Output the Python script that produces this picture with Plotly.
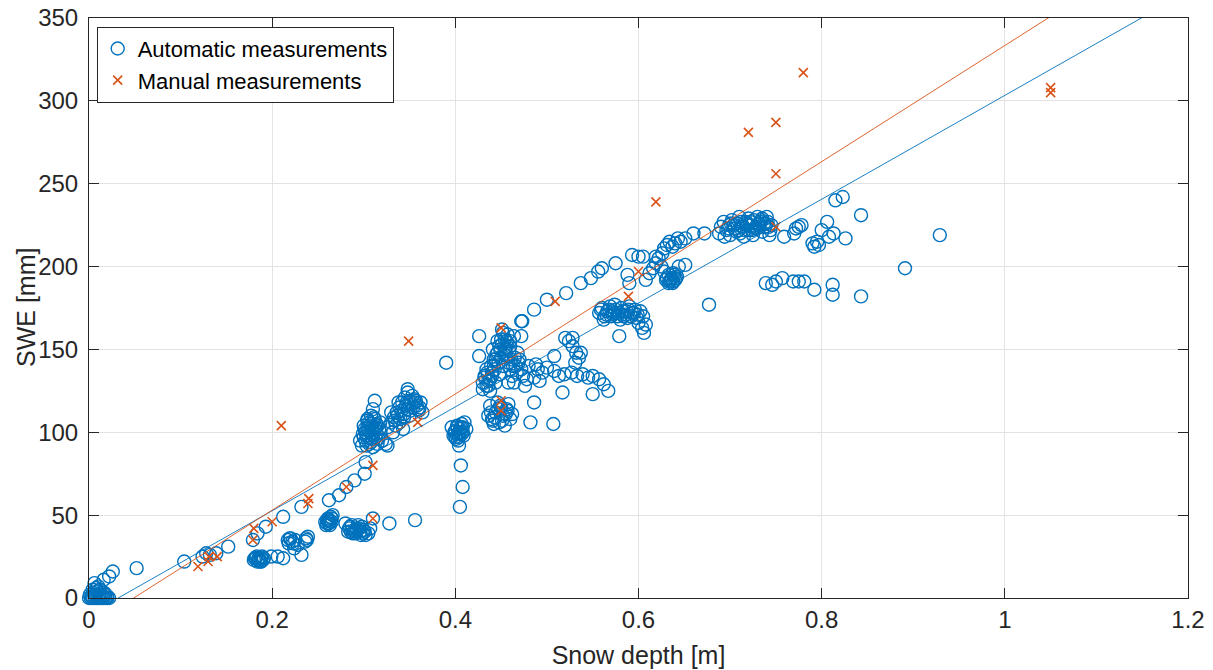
import numpy as np
import plotly.graph_objects as go

auto_depth = [
    0.000, 0.002, 0.004, 0.006, 0.008, 0.010, 0.012, 0.014, 0.016, 0.018, 0.020, 0.022,
    0.001, 0.003, 0.005, 0.007, 0.009, 0.011, 0.013, 0.015, 0.017, 0.020,
    0.004, 0.008, 0.006, 0.012, 0.016, 0.022, 0.026, 0.052, 0.010, 0.018,
    # 0.1 - 0.24
    0.104, 0.124, 0.128, 0.132, 0.139, 0.152, 0.179, 0.184, 0.193, 0.212, 0.232,
    0.180, 0.182, 0.184, 0.186, 0.188, 0.183, 0.187, 0.190, 0.185, 0.189,
    0.181, 0.185, 0.188, 0.191,
    0.199, 0.206, 0.212, 0.217, 0.220, 0.222, 0.225, 0.218, 0.224, 0.228, 0.232, 0.237, 0.239, 0.236,
    0.219, 0.223, 0.238,
    # 0.25 - 0.36 low
    0.258, 0.260, 0.262, 0.261, 0.263, 0.264, 0.266, 0.259, 0.262, 0.265,
    0.260, 0.263, 0.265, 0.261,
    0.280, 0.284, 0.286, 0.288, 0.290, 0.292, 0.294, 0.296, 0.298, 0.300, 0.302, 0.305,
    0.283, 0.287, 0.291, 0.297, 0.307, 0.310, 0.328, 0.356,
    0.289, 0.293, 0.295, 0.299, 0.301, 0.285,
    0.262, 0.273, 0.281, 0.290, 0.301, 0.302, 0.303,
    # 0.3 cluster
    0.296, 0.298, 0.300, 0.302, 0.304, 0.306, 0.308, 0.310, 0.312, 0.314, 0.316, 0.318,
    0.300, 0.304, 0.308, 0.312, 0.306, 0.310, 0.315, 0.303, 0.309, 0.313, 0.320, 0.318,
    0.310, 0.312, 0.324, 0.326,
    0.299, 0.301, 0.305, 0.307, 0.311, 0.313, 0.302, 0.306, 0.309, 0.314, 0.317, 0.304,
    0.308, 0.311, 0.315,
    # 0.33 - 0.365 cluster
    0.326, 0.330, 0.333, 0.336, 0.339, 0.342, 0.345, 0.348, 0.335, 0.340, 0.344, 0.348,
    0.352, 0.355, 0.358, 0.360, 0.362, 0.350, 0.330, 0.338, 0.343, 0.348, 0.353, 0.357,
    0.361, 0.364, 0.332,
    0.334, 0.337, 0.341, 0.346, 0.350, 0.354, 0.356, 0.359, 0.347, 0.351, 0.339, 0.344,
    # 0.4 strip
    0.390, 0.398, 0.400, 0.402, 0.404, 0.406, 0.408, 0.410, 0.401, 0.403, 0.405, 0.407,
    0.409, 0.404, 0.406, 0.408, 0.405, 0.396, 0.412,
    0.399, 0.402, 0.404, 0.406, 0.408, 0.400, 0.403, 0.407,
    # 0.43 - 0.48 cluster
    0.426, 0.426, 0.430, 0.432, 0.434, 0.436, 0.438, 0.440, 0.442, 0.444, 0.446, 0.448,
    0.450, 0.452, 0.454, 0.456, 0.458, 0.460, 0.462, 0.464, 0.466, 0.468, 0.470, 0.472,
    0.474, 0.476, 0.430, 0.434, 0.438, 0.444, 0.448, 0.452, 0.456, 0.460, 0.464, 0.446,
    0.441, 0.458, 0.472, 0.473, 0.486, 0.478,
    0.432, 0.436, 0.440, 0.443, 0.447, 0.450, 0.453, 0.455, 0.457, 0.459, 0.461, 0.463,
    0.435, 0.439, 0.442, 0.445, 0.449, 0.451, 0.454, 0.457, 0.460, 0.465, 0.467, 0.469,
    0.436, 0.440, 0.444, 0.448, 0.452, 0.456, 0.460, 0.438, 0.446, 0.454, 0.450, 0.442,
    0.458, 0.462,
    0.439, 0.443, 0.447, 0.451, 0.455, 0.441, 0.449, 0.457,
    # 0.48 - 0.57 chain
    0.486, 0.482, 0.507, 0.488, 0.495, 0.500, 0.508, 0.513, 0.519, 0.527, 0.533, 0.539,
    0.545, 0.550, 0.557, 0.562, 0.567, 0.550, 0.517, 0.508, 0.520, 0.524, 0.528, 0.532,
    0.535, 0.531, 0.528, 0.537, 0.486, 0.492, 0.480, 0.490,
    # upper chain
    0.451, 0.472, 0.500, 0.521, 0.537, 0.548, 0.556, 0.560, 0.575, 0.593, 0.600, 0.605, 0.619,
    # plateau ~172
    0.557, 0.560, 0.563, 0.566, 0.569, 0.572, 0.575, 0.578, 0.581, 0.584, 0.587, 0.590,
    0.593, 0.596, 0.599, 0.562, 0.570, 0.580, 0.588, 0.598, 0.602, 0.605, 0.600, 0.604,
    0.606, 0.608, 0.579, 0.574,
    0.559, 0.565, 0.568, 0.571, 0.577, 0.583, 0.586, 0.589, 0.592, 0.595, 0.574, 0.582,
    # 0.6 - 0.67
    0.588, 0.590, 0.608, 0.612, 0.616, 0.619, 0.622, 0.625, 0.628, 0.631, 0.634, 0.637,
    0.640, 0.642, 0.638, 0.644, 0.651, 0.626, 0.628, 0.631, 0.634, 0.637, 0.640, 0.643,
    0.646, 0.651, 0.660, 0.672, 0.636, 0.633,
    0.635, 0.638, 0.641, 0.639, 0.633, 0.630,
    # 0.69 - 0.745 dense
    0.688, 0.690, 0.693, 0.696, 0.699, 0.702, 0.705, 0.708, 0.711, 0.714, 0.717, 0.720,
    0.723, 0.726, 0.729, 0.732, 0.735, 0.738, 0.741, 0.744, 0.700, 0.710, 0.720, 0.730,
    0.740, 0.694, 0.715, 0.725, 0.735, 0.743, 0.745,
    0.698, 0.704, 0.707, 0.712, 0.716, 0.719, 0.722, 0.727, 0.731, 0.734, 0.737, 0.742,
    0.701, 0.709, 0.713, 0.718, 0.724, 0.728, 0.733, 0.739,
    # right side
    0.759, 0.770, 0.772, 0.775, 0.778, 0.790, 0.792, 0.795, 0.797, 0.800, 0.806, 0.813,
    0.815, 0.823, 0.826, 0.843, 0.808,
    0.677, 0.739, 0.746, 0.750, 0.757, 0.769, 0.775, 0.781, 0.792, 0.812, 0.812, 0.843,
    0.891, 0.929,
]
auto_swe = [
    0, 0, 0, 0, 0, 0, 0, 0, 0, 0, 0, 0,
    2, 1, 3, 2, 4, 1, 2, 1, 3, 1,
    5, 6, 9, 5, 11, 13, 16, 18, 7, 2,
    # 0.1 - 0.24
    22, 25, 27, 26, 27, 31, 35, 39, 43, 49, 55,
    23, 24, 22, 23, 24, 25, 22, 23, 24, 25,
    24, 23, 22, 24,
    25, 25, 24, 35, 36, 34, 35, 33, 30, 32, 26, 36, 37, 34,
    36, 33, 35,
    # 0.25 - 0.36 low
    46, 47, 45, 48, 44, 49, 50, 44, 47, 46,
    45, 46, 48, 47,
    45, 42, 40, 39, 41, 42, 44, 40, 43, 41, 38, 39,
    40, 44, 39, 38, 42, 48, 45, 47,
    40, 41, 42, 39, 40, 43,
    59, 62, 67, 71, 75, 82, 92,
    # 0.3 cluster
    95, 92, 97, 100, 103, 106, 94, 98, 102, 105, 96, 100,
    104, 108, 110, 108, 93, 91, 93, 98, 103, 97, 95, 106,
    114, 119, 93, 92,
    99, 102, 101, 104, 100, 103, 95, 97, 96, 99, 102, 107,
    105, 109, 104,
    # 0.33 - 0.365 cluster
    103, 106, 109, 112, 115, 118, 121, 124, 104, 108, 111, 114,
    117, 120, 116, 113, 118, 110, 112, 118, 102, 126, 122, 119,
    115, 112, 100,
    107, 110, 113, 116, 119, 115, 118, 114, 118, 113, 106, 109,
    # 0.4 strip
    142, 98, 101, 104, 97, 100, 103, 106, 96, 99, 102, 105,
    98, 92, 80, 67, 55, 103, 102,
    100, 103, 100, 103, 100, 97, 95, 99,
    # 0.43 - 0.48 cluster
    158, 146, 130, 134, 138, 128, 132, 136, 140, 144, 148, 152,
    156, 160, 150, 146, 142, 138, 134, 130, 140, 148, 144, 138,
    134, 128, 126, 128, 125, 130, 135, 140, 155, 152, 158, 155,
    150, 130, 158, 167, 174, 132,
    133, 131, 134, 138, 142, 145, 147, 151, 154, 149, 144, 140,
    136, 140, 144, 147, 150, 153, 156, 159, 155, 145, 136, 142,
    110, 108, 112, 106, 110, 114, 108, 116, 118, 104, 115, 105,
    117, 111,
    112, 109, 114, 107, 111, 107, 116, 113,
    # 0.48 - 0.57 chain
    118, 106, 105, 141, 136, 139, 137, 134, 135, 136, 134, 135,
    133, 134, 132, 129, 125, 123, 124, 146, 157, 155, 152, 148,
    145, 142, 157, 148, 133, 131, 140, 138,
    # upper chain
    162, 167, 180, 184, 190, 193, 197, 199, 202, 207, 206, 206, 206,
    # plateau ~172
    172, 175, 170, 173, 176, 171, 174, 172, 175, 170, 173, 176,
    172, 174, 171, 168, 170, 168, 169, 169, 173, 170, 166, 163,
    160, 165, 158, 177,
    174, 171, 174, 173, 170, 173, 171, 174, 170, 172, 172, 171,
    # 0.6 - 0.67
    195, 190, 192, 196, 199, 202, 205, 200, 197, 193, 191, 190,
    192, 194, 196, 200, 201, 208, 211, 213, 215, 212, 214, 217,
    215, 217, 220, 220, 193, 195,
    192, 191, 193, 195, 190, 192,
    # 0.69 - 0.745 dense
    220, 224, 227, 222, 225, 228, 223, 226, 220, 224, 227, 222,
    225, 228, 223, 226, 229, 224, 227, 222, 219, 230, 229, 230,
    230, 218, 218, 219, 221, 219, 225,
    223, 225, 221, 227, 222, 225, 227, 223, 225, 228, 226, 224,
    226, 222, 224, 226, 222, 224, 227, 226,
    # right side
    218, 220, 223, 224, 225, 214, 212, 215, 213, 222, 227, 220,
    240, 242, 217, 231, 218,
    177, 190, 189, 191, 193, 191, 191, 191, 186, 189, 183, 182,
    199, 219,
]

# Manual measurements
manual_depth = [0.119, 0.130, 0.131, 0.140, 0.179, 0.180, 0.200, 0.210, 0.239, 0.240,
                0.281, 0.310, 0.310, 0.349, 0.359, 0.450, 0.450, 0.450, 0.509, 0.589,
                0.600, 0.619, 0.720, 0.750, 0.750, 0.750, 0.780, 1.050, 1.050]
manual_swe = [19, 22, 25, 25, 35, 42, 46, 104, 57, 60,
              67, 48, 80, 155, 106, 163, 119, 113, 179, 182,
              197, 239, 281, 287, 256, 224, 317, 308, 305]

# linear fits (slope, intercept) as drawn in the reference
fit_auto = [313.3, -10.0]
fit_manual = [350.5, -17.1]

x_ticks = [0, 0.2, 0.4, 0.6, 0.8, 1.0, 1.2]
x_labels = ['0', '0.2', '0.4', '0.6', '0.8', '1', '1.2']
y_ticks = [0, 50, 100, 150, 200, 250, 300, 350]

BLUE = '#0072BD'
RED = '#D95319'
AX = '#262626'
FONT = 'Liberation Sans, Arial, sans-serif'

fig = go.Figure()

fig.add_trace(go.Scatter(
    x=auto_depth, y=auto_swe, mode='markers', name='Automatic measurements',
    marker=dict(symbol='circle-open', size=13, color=BLUE, line=dict(width=1.4, color=BLUE)),
    cliponaxis=False,
))
fig.add_trace(go.Scatter(
    x=manual_depth, y=manual_swe, mode='markers', name='Manual measurements',
    marker=dict(symbol='x-thin-open', size=9, color=RED, line=dict(width=1.6, color=RED)),
    cliponaxis=False,
))

# fit lines, from the zero crossing to the right edge (clipped by the axes)
for fit, col in [(fit_auto, BLUE), (fit_manual, RED)]:
    xs = np.array([-fit[1] / fit[0], 1.2])
    fig.add_trace(go.Scatter(
        x=xs, y=fit[0] * xs + fit[1], mode='lines', showlegend=False,
        line=dict(color=col, width=0.9), hoverinfo='skip',
    ))

axis_common = dict(
    showline=True, linecolor=AX, linewidth=1, mirror='ticks',
    ticks='inside', ticklen=10, tickcolor=AX, tickwidth=1,
    showgrid=True, gridcolor='#e3e3e3', gridwidth=1, zeroline=False,
    automargin=False, ticklabeloverflow='allow',
    tickfont=dict(family=FONT, size=24, color=AX),
)

fig.update_layout(
    width=1213, height=670,
    margin=dict(l=89, r=25, t=18, b=72),
    paper_bgcolor='white', plot_bgcolor='white',
    xaxis=dict(range=[0, 1.2], tickvals=x_ticks, ticktext=x_labels,
               title=dict(text='Snow depth [m]', standoff=14,
                          font=dict(family=FONT, size=25, color=AX)),
               **axis_common),
    yaxis=dict(range=[0, 350], tickvals=y_ticks, ticklabelstandoff=5,
               **axis_common),
    legend=dict(x=0.007, y=0.985, xanchor='left', yanchor='top',
                bgcolor='white', bordercolor=AX, borderwidth=1,
                font=dict(family=FONT, size=22, color='black'),
                itemwidth=30, tracegroupgap=0),
    showlegend=True,
)

# y title as an annotation so it sits where the reference has it
fig.add_annotation(text='SWE [mm]', xref='paper', yref='paper', x=0, y=0.5,
                   xshift=-63, textangle=-90, showarrow=False,
                   xanchor='center', yanchor='middle',
                   font=dict(family=FONT, size=25, color=AX))

# drop the default 8px body margin so the figure fills the window exactly
fig.write_html("out.html", config={'displayModeBar': False},
               post_script="document.body.style.margin='0';")
